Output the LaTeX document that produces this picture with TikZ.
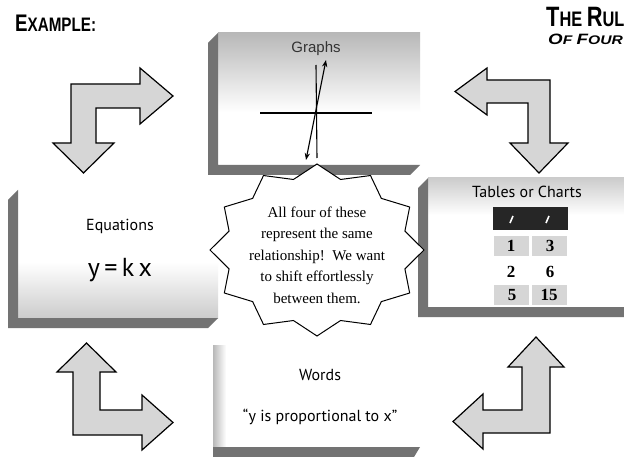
\documentclass[tikz,border=0pt]{standalone}
\usepackage{fontspec}
\setmainfont{Liberation Serif}
\newfontfamily\labelfont{PT Sans}
\newfontfamily\graphfont{Liberation Sans}
\newfontfamily\headfont[FakeStretch=0.78]{Liberation Sans}
\newfontfamily\subheadfont[FakeStretch=1.25]{Liberation Sans}
\usetikzlibrary{arrows.meta}

\tikzset{
  blockarrow/.style={draw=black,line width=1.2pt,fill=black!16,line join=miter},
  shadowband/.style={fill=black!55,draw=none},
  boxlabel/.style={font=\labelfont\fontsize{16}{19}\selectfont},
  cellnum/.style={font=\bfseries\fontsize{17}{19}\selectfont},
  cellbg/.style={fill=black!16,draw=none}
}

\begin{document}
\begin{tikzpicture}[x=1pt,y=-1pt]

\useasboundingbox (0,0) rectangle (624,457);
\fill[white] (0,0) rectangle (624,457);

% titles
\node[anchor=west,inner sep=0pt]
(example)
at (15,23)
{\headfont\bfseries{\fontsize{24}{24}\selectfont E}{\fontsize{19.5}{24}\selectfont XAMPLE:}};

\node[anchor=west,inner sep=0pt]
(rule)
at (546,17)
{\headfont\bfseries{\fontsize{28}{28}\selectfont T}{\fontsize{21}{28}\selectfont HE }{\fontsize{28}{28}\selectfont R}{\fontsize{21}{28}\selectfont ULE}};

\node[anchor=west,inner sep=0pt]
(ofour)
at (548,39)
{\subheadfont\bfseries\itshape{\fontsize{15}{15}\selectfont O}{\fontsize{12.5}{15}\selectfont F }{\fontsize{15}{15}\selectfont F}{\fontsize{12.5}{15}\selectfont OUR}};

% Graphs box
\shade[top color=black!28,bottom color=white] (218,33) rectangle (420,112);
\fill[shadowband] (218,33) -- (208,43) -- (208,175) -- (410,175) -- (420,165) -- (218,165) -- cycle;

\node[font=\graphfont\fontsize{15}{18}\selectfont,text=black!80]
(graphs)
at (316,49)
{Graphs};

\draw[line width=1.1pt]
(260,113)
--
(372,113);

\draw[line width=1.1pt]
(316,65)
--
(317,158);

\draw[line width=1.1pt,{Stealth[length=7pt]}-{Stealth[length=7pt]}]
(306,160)
--
(326,60);

% Equations box
\shade[top color=white,bottom color=black!20] (18,262) rectangle (218,318);
\fill[shadowband] (18,190) -- (8,200) -- (8,328) -- (208,328) -- (218,318) -- (18,318) -- cycle;

\node[boxlabel]
(equations)
at (120,226)
{Equations};

\node[font=\labelfont\fontsize{26}{28}\selectfont]
(eqn)
at (120,270)
{y\,=\,k\,x};

% Tables box
\shade[top color=black!20,bottom color=white] (428,178) rectangle (624,215);
\fill[shadowband] (428,178) -- (418,188) -- (418,317) -- (640,317) -- (640,307) -- (428,307) -- cycle;

\node[boxlabel]
(tables)
at (527,192)
{Tables or Charts};

\fill[black!85] (493,207) rectangle (568,230);
\draw[white,line width=1.6pt] (510,223) -- (513,216);
\draw[white,line width=1.6pt] (546,223) -- (549,216);

\fill[cellbg] (494,236) rectangle (529,256);
\fill[cellbg] (532,236) rectangle (567,256);
\fill[cellbg] (494,285) rectangle (529,305);
\fill[cellbg] (532,285) rectangle (567,305);

\node[cellnum] (c11) at (511,246) {1};
\node[cellnum] (c12) at (550,246) {3};
\node[cellnum] (c21) at (511,272) {2};
\node[cellnum] (c22) at (550,272) {6};
\node[cellnum] (c31) at (512,295) {5};
\node[cellnum] (c32) at (549,295) {15};

% Words box
\shade[left color=black!28,right color=white] (213,345) rectangle (226,447);
\fill[shadowband] (213,447) -- (420,447) -- (414,457) -- (213,457) -- cycle;

\node[boxlabel]
(words)
at (320,375)
{Words};

\node[boxlabel]
(quote)
at (320,417)
{“y is proportional to x”};

% star in the middle
\begin{scope}[shift={(317,250)}]
\draw[fill=white,line width=1pt,line join=miter]
(0:107 and 86)
\foreach \a in {15,45,...,345} { -- (\a:91 and 73) -- (\a+15:107 and 86) }
-- cycle;
\end{scope}

\node[align=center,font=\fontsize{15}{21.5}\selectfont]
(bubble)
at (317,255)
{All four of these\\represent the same\\relationship!\ \ We want\\to shift effortlessly\\between them.};

% block arrows
\draw[blockarrow]
(71,84) -- (140,84) -- (140,68) -- (173,96) -- (140,124) -- (140,108)
-- (96,108) -- (96,143) -- (114,143) -- (83.5,173) -- (53,143) -- (71,143) -- cycle;

\draw[blockarrow]
(550,80) -- (487,80) -- (487,68) -- (455,91.5) -- (487,115) -- (487,103)
-- (528,103) -- (528,143) -- (510,143) -- (539,173) -- (568,143) -- (550,143) -- cycle;

\draw[blockarrow]
(73,435) -- (73,372) -- (57,372) -- (86.5,343) -- (116,372) -- (100,372)
-- (100,410) -- (142,410) -- (142,395) -- (173,422.5) -- (142,450) -- (142,435) -- cycle;

\draw[blockarrow]
(550,433) -- (550,367) -- (564,367) -- (536,337) -- (508,367) -- (522,367)
-- (522,410) -- (483,410) -- (483,394) -- (453,421.5) -- (483,449) -- (483,433) -- cycle;

\end{tikzpicture}
\end{document}
